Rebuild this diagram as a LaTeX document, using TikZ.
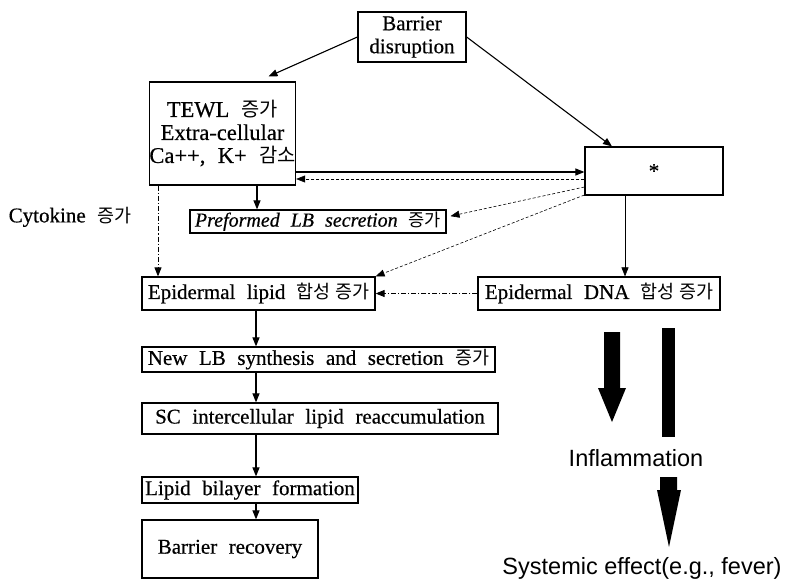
\documentclass[tikz,border=0pt]{standalone}
\usepackage{fontspec}
\setmainfont{Liberation Serif}[WordSpace=2.2, FakeBold=0.5]
\newfontfamily\kr{Noto Sans CJK KR}[Scale=0.88]
\newfontfamily\arial{Liberation Sans}
\usetikzlibrary{arrows.meta}
\begin{document}
\begin{tikzpicture}[x=1pt,y=-1pt,
  box/.style={draw=black, line width=1.2pt, inner sep=0pt, align=center,
    font=\fontsize{21}{23}\selectfont},
  conn/.style={line width=1.1pt, -{Triangle[length=9pt,width=7pt]}},
  thin/.style={line width=0.6pt, densely dashed, -{Triangle[length=9pt,width=7pt]}},
  dashdot/.style={line width=0.9pt, dash pattern=on 5pt off 2pt on 1.2pt off 2pt, -{Triangle[length=9pt,width=7pt]}},
  txt/.style={inner sep=0pt, font=\fontsize{21}{23}\selectfont},
  big/.style={inner sep=0pt, font=\arial\fontsize{23.5}{26}\selectfont}]
\useasboundingbox (0,0) rectangle (787,583);

\node[box, minimum width=108pt, minimum height=50pt] (bar) at (412,37) {Barrier\\disruption};
\node[box, minimum width=145pt, minimum height=103pt, font=\fontsize{22.5}{23}\selectfont] (tewl) at (222.5,133.5)
  {TEWL \kr{증가}\\Extra-cellular\\Ca++, K+ \kr{감소}};
\node[box, minimum width=138pt, minimum height=48pt] (star) at (654,171) {\raisebox{-0.3em}{*}};
\node[box, minimum width=256pt, minimum height=23pt, font=\fontsize{20}{22}\selectfont] (pref) at (318,221.5) {\itshape Preformed LB secretion \kr{증가}};
\node[txt] (cyto) at (70,217) {Cytokine \kr{증가}};
\node[box, minimum width=233pt, minimum height=33pt] (lipid) at (258.5,293.5) {Epidermal lipid \kr{합성} \kr{증가}};
\node[box, minimum width=242pt, minimum height=33pt] (dna) at (599,293.5) {Epidermal DNA \kr{합성} \kr{증가}};
\node[box, minimum width=353pt, minimum height=25pt] (newlb) at (318.5,359.5) {New LB synthesis and secretion \kr{증가}};
\node[box, minimum width=356pt, minimum height=31pt] (sc) at (320,418.5) {SC intercellular lipid reaccumulation};
\node[box, minimum width=216pt, minimum height=26pt] (bil) at (250,490) {Lipid bilayer formation};
\node[box, minimum width=176pt, minimum height=58pt] (rec) at (230,549) {Barrier recovery};

\node[big] (infl) at (636,458) {Inflammation};
\node[big] (sys) at (642,568) {Systemic effect(e.g., fever)};

% connectors
\draw[conn, shorten >=12pt] (bar.west) -- ([xshift=35pt]tewl.north);
\draw[conn] (bar.east) -- ([xshift=-42pt]star.north);
\draw[conn] (tewl.east |- 0,172) -- (star.west |- 0,172);
\draw[thin] (star.west |- 0,179) -- (tewl.east |- 0,179);
\draw[thin, shorten >=4pt] (star.west |- 0,187) -- (pref.east |- 0,217);
\draw[thin] (star.west |- 0,195) -- (lipid.north east);
\draw[line width=0.6pt, -{Triangle[length=9pt,width=7pt]}] (star.south -| 625,0) -- (dna.north -| 625,0);
\draw[conn] (tewl.south -| 257,0) -- (pref.north -| 257,0);
\draw[dashdot] (tewl.south -| 158,0) -- (lipid.north -| 158,0);
\draw[dashdot] (dna.west) -- (lipid.east);
\draw[conn] (lipid.south -| 256,0) -- (newlb.north -| 256,0);
\draw[conn] (newlb.south -| 256,0) -- (sc.north -| 256,0);
\draw[conn] (sc.south -| 256,0) -- (bil.north -| 256,0);
\draw[conn] (bil.south -| 256,0) -- (rec.north -| 256,0);

% thick arrows
\fill (604,332) -- (620,332) -- (620,388) -- (626,388) -- (612,422) -- (598,388) -- (604,388) -- cycle;
\fill (662,328) rectangle (675,437);
\fill (660,477) -- (677,477) -- (677,490) -- (681,490) -- (669,547) -- (657,490) -- (660,490) -- cycle;
\end{tikzpicture}
\end{document}
